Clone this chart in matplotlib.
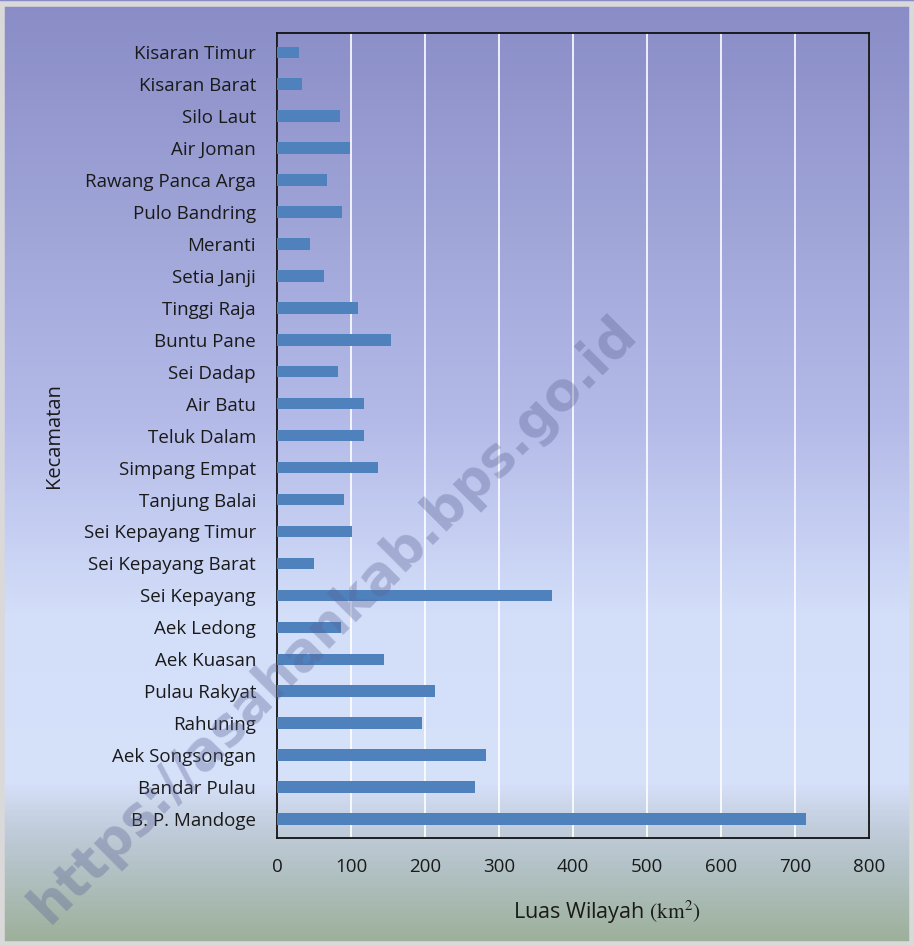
import numpy as np
import matplotlib
matplotlib.use("Agg")
import matplotlib.pyplot as plt
from matplotlib.colors import LinearSegmentedColormap
from matplotlib.patches import Rectangle

kecamatan = ["B. P. Mandoge", "Bandar Pulau", "Aek Songsongan", "Rahuning",
             "Pulau Rakyat", "Aek Kuasan", "Aek Ledong", "Sei Kepayang",
             "Sei Kepayang Barat", "Sei Kepayang Timur", "Tanjung Balai",
             "Simpang Empat", "Teluk Dalam", "Air Batu", "Sei Dadap",
             "Buntu Pane", "Tinggi Raja", "Setia Janji", "Meranti",
             "Pulo Bandring", "Rawang Panca Arga", "Air Joman", "Silo Laut",
             "Kisaran Barat", "Kisaran Timur"]
luas = [715, 268, 283, 196, 214, 144, 87, 372, 50, 101, 90, 137, 118, 118,
        83, 154, 109, 63, 45, 88, 68, 99, 85, 34, 30]
xticks = [0, 100, 200, 300, 400, 500, 600, 700, 800]

plt.rcParams['font.family'] = ['Open Sans', 'DejaVu Sans']
plt.rcParams['mathtext.fontset'] = 'stix'

fig = plt.figure(figsize=(9.14, 9.46), dpi=100)

# background gradient over the whole figure (top -> bottom)
bg = fig.add_axes([0, 0, 1, 1], zorder=-10)
cmap = LinearSegmentedColormap.from_list("bg", [
    (0.0, "#898cc6"), (0.45, "#b4bbe8"), (0.65, "#d3def9"),
    (0.83, "#d6e1fa"), (0.87, "#c4cfe0"), (0.92, "#b3c2c6"), (1.0, "#9cb099")])
bg.imshow(np.linspace(0, 1, 400).reshape(-1, 1), aspect="auto", cmap=cmap,
          extent=[0, 1, 0, 1], origin="upper")
bg.set_xlim(0, 1)
bg.set_ylim(0, 1)
bg.axis("off")
fig.patches.append(Rectangle((0.002, 0.002), 0.996, 0.994, transform=fig.transFigure,
                             fill=False, edgecolor="#d9d9d9", linewidth=4))

ax = fig.add_axes([0.303, 0.114, 0.648, 0.851])
ax.patch.set_alpha(0)
y = np.arange(len(kecamatan))
ax.barh(y, luas, height=0.36, color="#4f81bd", zorder=3)
ax.set_ylim(-0.6, len(kecamatan) - 0.4)
ax.set_xlim(0, 800)
ax.set_xticks(xticks)
ax.set_yticks(y)
ax.set_yticklabels(kecamatan)
ax.tick_params(length=0, labelsize=13.5, colors="#1a1a1a")
ax.tick_params(axis="x", pad=14)
ax.tick_params(axis="y", pad=15)
ax.xaxis.grid(True, color="white", linewidth=1.2, zorder=1)
ax.set_axisbelow(True)
for s in ax.spines.values():
    s.set_color("#111111")
    s.set_linewidth(1.3)
ax.set_xlabel("Luas Wilayah $\\mathrm{(km}^{2}\\mathrm{)}$", fontsize=15.5, color="#1a1a1a")
ax.xaxis.set_label_coords(0.557, -0.075)
ax.set_ylabel("Kecamatan", fontsize=14.5, color="#1a1a1a")
ax.yaxis.set_label_coords(-0.36, 0.5)

# watermark
fig.text(0.365, 0.345, "https://asahankab.bps.go.id", fontsize=38, fontweight="bold",
         rotation=45, ha="center", va="center", color="#5a6294", alpha=0.35,
         family="DejaVu Sans")

fig.savefig("out.png", dpi=100)
